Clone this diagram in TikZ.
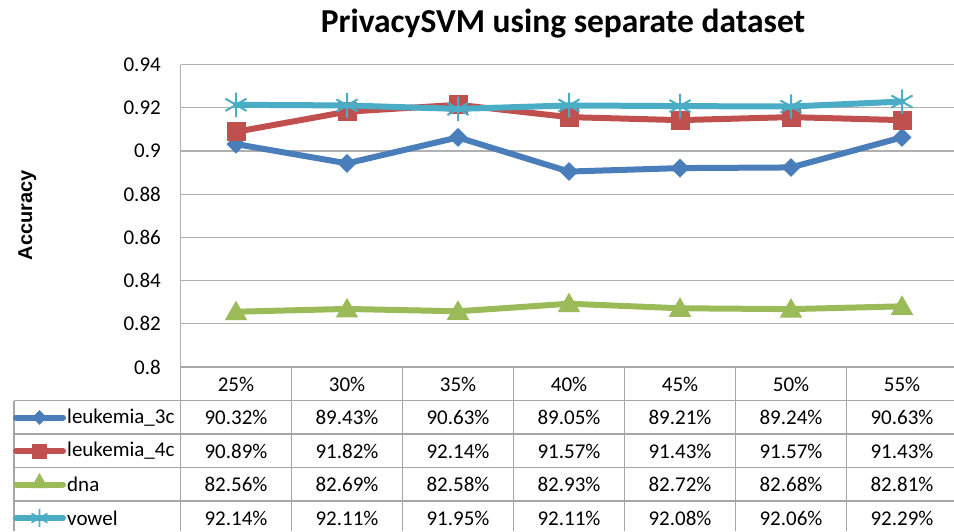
\documentclass[tikz,border=0pt]{standalone}
\usepackage{fontspec}
\setmainfont{Carlito}
\newfontfamily\arialfont{Liberation Sans}
\usetikzlibrary{shapes.geometric}
\definecolor{cblue}{HTML}{4A7EBB}
\definecolor{cred}{HTML}{C0504D}
\definecolor{cgreen}{HTML}{9BBB59}
\definecolor{ccyan}{HTML}{4BACC6}
\definecolor{gridc}{HTML}{B0B0B0}
\definecolor{tabc}{HTML}{A6A6A6}
\begin{document}
\begin{tikzpicture}[x=1pt,y=-1pt,
  grid/.style={draw=gridc,line width=1.3pt},
  tab/.style={draw=tabc,line width=1.3pt},
  series/.style={line width=6pt,line join=round,line cap=round},
  txt/.style={font=\fontsize{21}{24}\selectfont,inner sep=0pt},
  mdia/.style={diamond,fill=cblue,minimum width=19pt,minimum height=19pt,inner sep=0pt},
  msq/.style={rectangle,fill=cred,minimum width=19pt,minimum height=19pt,inner sep=0pt},
  mtri/.style={regular polygon,regular polygon sides=3,fill=cgreen,minimum size=26pt,inner sep=0pt},
  mast/.style={circle,minimum size=24pt,inner sep=0pt}
]
\useasboundingbox (0,0) rectangle (954,531);
% gridlines
\foreach \v/\lab in {0.80/0.8,0.82/0.82,0.84/0.84,0.86/0.86,0.88/0.88,0.90/0.9,0.92/0.92,0.94/0.94}{
  \pgfmathsetmacro{\yy}{367-(\v-0.8)*2160}
  \draw[grid] (180.5,\yy) -- (954,\yy);
  \node[txt,anchor=east] (t\lab) at (161,\yy) {\lab};
}
\draw[grid] (180.5,64.6) -- (180.5,367);
% table
\draw[tab] (180.5,367) -- (954,367);
\foreach \yy in {400.5,434,467.5,501}{ \draw[tab] (14,\yy) -- (954,\yy); }
\draw[tab] (14,400.5) -- (14,531);
\foreach \k in {0,...,6}{
  \pgfmathsetmacro{\xx}{180.5+111*\k}
  \draw[tab] (\xx,367) -- (\xx,531);
}
% header
\foreach \p [count=\i from 0] in {25\%,30\%,35\%,40\%,45\%,50\%,55\%}{
  \node[txt] (h\i) at (236+111*\i,384) {\p};
}
% data values and series coordinates
\foreach \r/\ry/\lst in {A/417.5/{90.32,89.43,90.63,89.05,89.21,89.24,90.63},
                         B/451/{90.89,91.82,92.14,91.57,91.43,91.57,91.43},
                         C/484.5/{82.56,82.69,82.58,82.93,82.72,82.68,82.81},
                         D/518/{92.14,92.11,91.95,92.11,92.08,92.06,92.29}}{
  \foreach \v [count=\i from 0] in \lst {
    \node[txt] (v\r\i) at (236+111*\i,\ry) {\v\%};
    \pgfmathsetmacro{\yy}{367-(\v/100-0.8)*2160}
    \coordinate (p\r\i) at (236+111*\i,\yy);
  }
}
% legend labels
\node[txt,anchor=west] (lA) at (67,417.5) {leukemia\_3c};
\node[txt,anchor=west] (lB) at (67,451) {leukemia\_4c};
\node[txt,anchor=west] (lC) at (67,484.5) {dna};
\node[txt,anchor=west] (lD) at (67,518) {vowel};
% blue
\draw[series,cblue] (pA0) -- (pA1) -- (pA2) -- (pA3) -- (pA4) -- (pA5) -- (pA6);
\foreach \i in {0,...,6}{ \node[mdia] (mA\i) at (pA\i) {}; }
% red
\draw[series,cred] (pB0) -- (pB1) -- (pB2) -- (pB3) -- (pB4) -- (pB5) -- (pB6);
\foreach \i in {0,...,6}{ \node[msq] (mB\i) at (pB\i) {}; }
% green
\draw[series,cgreen] (pC0) -- (pC1) -- (pC2) -- (pC3) -- (pC4) -- (pC5) -- (pC6);
\foreach \i in {0,...,6}{ \node[mtri] (mC\i) at ([yshift=-2pt]pC\i) {}; }
% cyan
\draw[series,ccyan] (pD0) -- (pD1) -- (pD2) -- (pD3) -- (pD4) -- (pD5) -- (pD6);
\foreach \i in {0,...,6}{
  \node[mast] (mD\i) at (pD\i) {};
  \draw[ccyan,line width=2pt] (mD\i.north) -- (mD\i.south) (mD\i.30) -- (mD\i.210) (mD\i.150) -- (mD\i.330);
}
% legend samples
\coordinate (sA0) at (16,417.5); \coordinate (sA1) at (63,417.5);
\coordinate (sB0) at (16,451); \coordinate (sB1) at (63,451);
\coordinate (sC0) at (16,484.5); \coordinate (sC1) at (63,484.5);
\coordinate (sD0) at (16,518); \coordinate (sD1) at (63,518);
\draw[series,cblue] (sA0) -- (sA1); \node[mdia,minimum width=15pt,minimum height=15pt] (gA) at (39.5,417.5) {};
\draw[series,cred] (sB0) -- (sB1); \node[msq,minimum width=15pt,minimum height=15pt] (gB) at (39.5,451) {};
\draw[series,cgreen] (sC0) -- (sC1); \node[mtri,minimum size=20pt] (gC) at (39.5,483) {};
\draw[series,ccyan] (sD0) -- (sD1); \node[mast,minimum size=18pt] (gD) at (39.5,518) {};
\draw[ccyan,line width=1.6pt] (gD.north) -- (gD.south) (gD.30) -- (gD.210) (gD.150) -- (gD.330);
% title and axis label
\node[font=\bfseries\fontsize{33.5}{36}\selectfont,inner sep=0pt,anchor=base] (title) at (563,32) {PrivacySVM using separate dataset};
\node[font=\arialfont\bfseries\fontsize{20}{22}\selectfont,inner sep=0pt,rotate=90,anchor=base] (ylab) at (32,215) {Accuracy};
\end{tikzpicture}
\end{document}
